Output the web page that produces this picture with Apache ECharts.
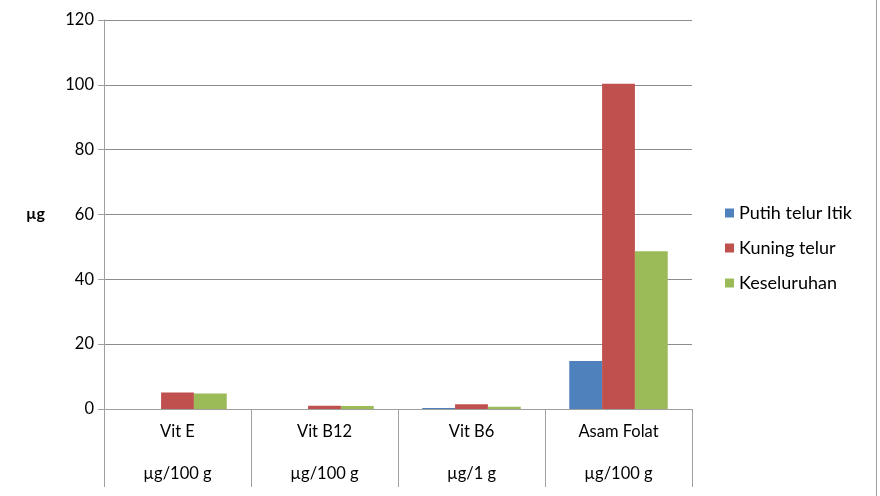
<!DOCTYPE html>
<html>
<head>
<meta charset="utf-8">
<script src="https://cdn.jsdelivr.net/npm/echarts@6/dist/echarts.min.js"></script>
<style>html,body{margin:0;padding:0;background:#fff}#c{width:880px;height:496px}</style>
</head>
<body>
<div id="c"></div>
<script>
var categories = ['Vit E', 'Vit B12', 'Vit B6', 'Asam Folat'];
var units = ['µg/100 g', 'µg/100 g', 'µg/1 g', 'µg/100 g'];
var seriesNames = ['Putih telur Itik', 'Kuning telur', 'Keseluruhan'];
var putih = [0, 0, 0.3, 14.8];
var kuning = [5.1, 1.0, 1.5, 100.3];
var keseluruhan = [4.8, 0.9, 0.7, 48.7];
var yTicks = [0, 20, 40, 60, 80, 100, 120];
var colors = ['#4F81BD', '#C0504D', '#9BBB59'];

var FONT = 'Lato, "Open Sans", sans-serif';
var chart = echarts.init(document.getElementById('c'), null, {renderer: 'canvas'});
var dataSets = [putih, kuning, keseluruhan];
chart.setOption({
  animation: false,
  color: colors,
  textStyle: {fontFamily: FONT},
  grid: {left: 104, right: 188, top: 20, bottom: 87, containLabel: false},
  legend: {
    orient: 'vertical', left: 720, top: 199,
    itemWidth: 9, itemHeight: 9, itemGap: 17,
    icon: 'rect',
    textStyle: {fontFamily: FONT, fontSize: 18, color: '#000', lineHeight: 18},
    data: seriesNames
  },
  xAxis: {
    type: 'category',
    data: categories,
    axisLine: {show: true, lineStyle: {color: '#a0a0a0', width: 1}},
    axisTick: {show: true, length: 78, alignWithLabel: false, lineStyle: {color: '#a0a0a0'}},
    axisLabel: {
      margin: 2, fontSize: 16.5, color: '#000', fontFamily: FONT, lineHeight: 42,
      interval: 0,
      formatter: function (v, i) { return v + '\n' + units[i]; }
    }
  },
  yAxis: {
    type: 'value', min: 0, max: 120, interval: 20,
    axisLine: {show: true, lineStyle: {color: '#a0a0a0'}},
    axisTick: {show: true, length: 6, lineStyle: {color: '#a0a0a0'}},
    axisLabel: {fontSize: 16.5, color: '#000', fontFamily: FONT, margin: 10,
      formatter: function (v) { return yTicks.indexOf(v) >= 0 ? String(v) : ''; }},
    splitLine: {show: true, lineStyle: {color: '#8c8c8c', width: 1}}
  },
  series: seriesNames.map(function (n, i) {
    return {
      name: n, type: 'bar', data: dataSets[i],
      barGap: '0%', barCategoryGap: '33%',
      itemStyle: {color: colors[i]}
    };
  }),
  graphic: [
    {type: 'text', left: 26, top: 206, style: {text: 'µg', font: 'bold 16px ' + FONT, fill: '#000'}},
    {type: 'line', shape: {x1: 876.5, y1: 0, x2: 876.5, y2: 496}, style: {stroke: '#a0a0a0', lineWidth: 1}}
  ]
});
</script>
</body>
</html>
